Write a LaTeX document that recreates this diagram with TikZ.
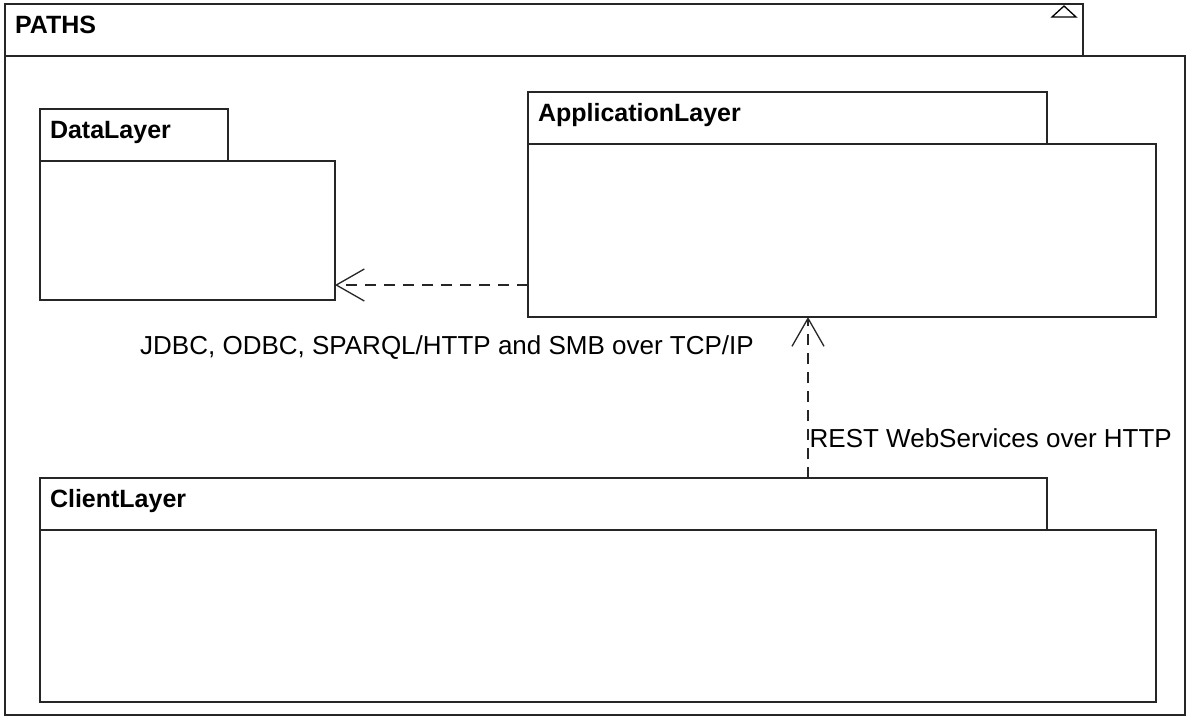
\documentclass[tikz,border=0pt]{standalone}
\usepackage{fontspec}
\setmainfont{Liberation Sans}
\usetikzlibrary{arrows.meta,positioning}

\tikzset{
  pkgtab/.style={draw=black!85, line width=1.6pt, shape=rectangle, anchor=north west,
    outer sep=0pt, inner xsep=10pt, inner ysep=0pt, text height=29.5pt, text depth=22.5pt,
    align=left, font=\fontsize{25}{29}\selectfont\bfseries},
  pkgbody/.style={draw=black!85, line width=1.6pt, shape=rectangle, outer sep=0pt,
    below right=0pt of #1},
  dep/.style={draw=black!85, line width=1.3pt, dash pattern=on 11pt off 8pt,
    -{Straight Barb[length=28pt,width=32pt,line width=1.3pt]}},
  linklabel/.style={inner sep=1pt, font=\fontsize{26}{30}\selectfont}
}

\begin{document}
\begin{tikzpicture}[x=1pt,y=-1pt]
\useasboundingbox[fill=white] (0,0) rectangle (1190,720);

% outer package with its tab
\node[pkgtab, text width=1058pt] (paths) at (5,4) {PATHS};
\node[pkgbody=paths.south west, minimum width=1180pt, minimum height=659pt] (pathsBody) {};
\draw[line width=1.3pt] (1052,17) -- (1064,6) -- (1076,17) -- cycle;

% the three layers
\node[pkgtab, text width=168pt] (data) at (40,109) {DataLayer};
\node[pkgbody=data.south west, minimum width=295pt, minimum height=139pt] (dataBody) {};

\node[pkgtab, text width=499pt] (app) at (528,92) {ApplicationLayer};
\node[pkgbody=app.south west, minimum width=628pt, minimum height=173pt] (appBody) {};

\node[pkgtab, text width=987pt] (client) at (40,478) {ClientLayer};
\node[pkgbody=client.south west, minimum width=1116pt, minimum height=172pt] (clientBody) {};

% dependencies
\coordinate (jdbcStart) at ([yshift=32pt]appBody.south west);
\draw[dep] (jdbcStart) -- (jdbcStart -| dataBody.east);
\node[linklabel] (jdbcLabel) at (447,348) {JDBC, ODBC, SPARQL/HTTP and SMB over TCP/IP};

\coordinate (restStart) at ([xshift=768pt]client.north west);
\draw[dep] (restStart) -- node[linklabel, pos=0.25, anchor=west] (restLabel) {REST WebServices over HTTP} (restStart |- appBody.south);
\end{tikzpicture}
\end{document}
